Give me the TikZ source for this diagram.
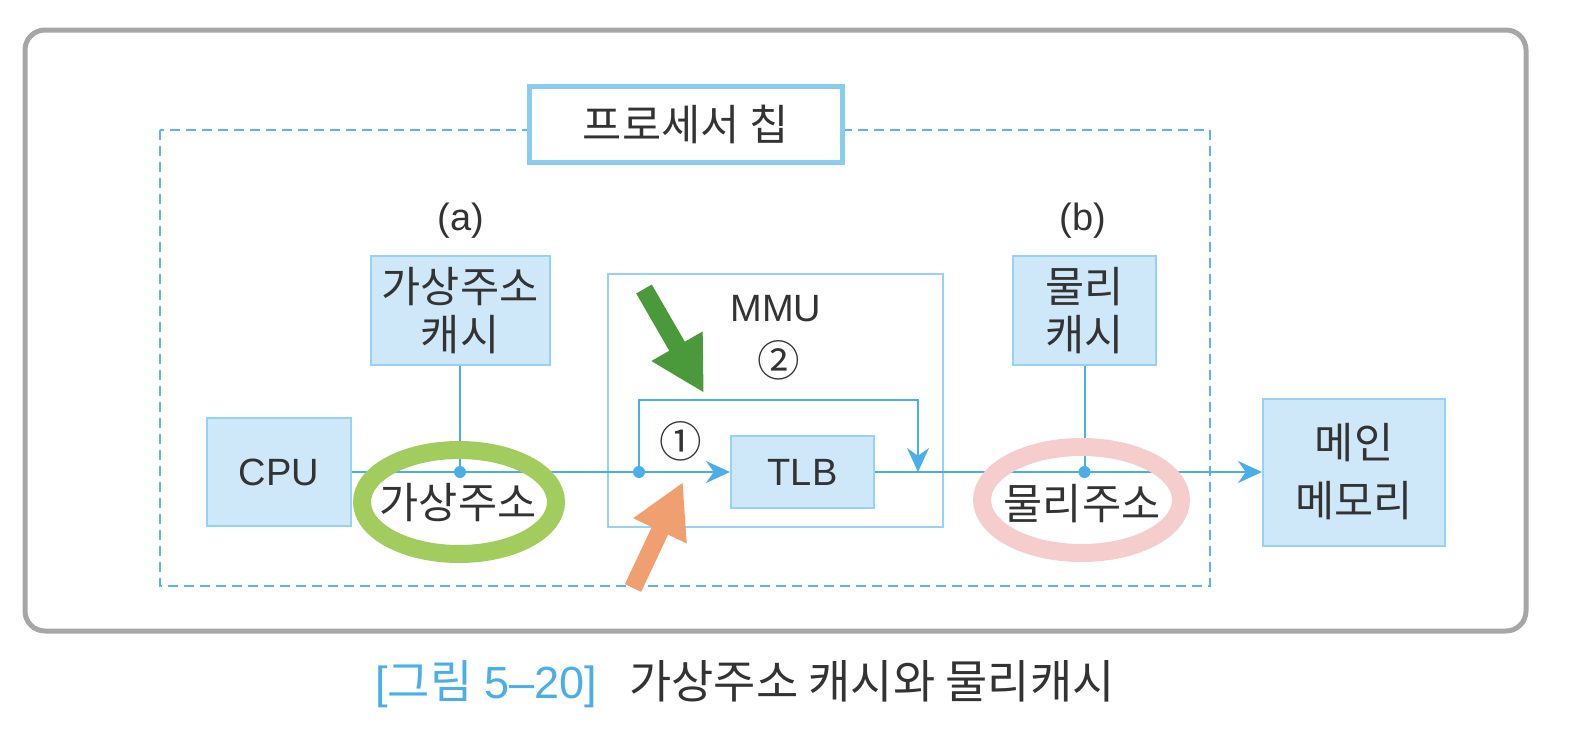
\documentclass[tikz,border=0pt]{standalone}
\usepackage{fontspec}
\setmainfont{Liberation Sans}
\newfontfamily\kr[Scale=1.12]{Noto Sans CJK KR}
\usetikzlibrary{arrows.meta, positioning, calc}
\definecolor{lineblue}{HTML}{4AAEE8}
\definecolor{dashblue}{HTML}{5AB6EA}
\definecolor{boxfill}{HTML}{CFE8F9}
\definecolor{boxline}{HTML}{98D2F3}
\definecolor{titleline}{HTML}{88CCF0}
\definecolor{framegray}{HTML}{A6A6A6}
\definecolor{ringgreen}{HTML}{A2CC5E}
\definecolor{ringpink}{HTML}{F5CDCD}
\definecolor{hintgreen}{HTML}{4A9A3C}
\definecolor{hintorange}{HTML}{F0A070}
\definecolor{textgray}{HTML}{333333}
\begin{document}
\begin{tikzpicture}[x=0.5pt, y=-0.5pt,
    block/.style={draw=boxline, line width=1pt, fill=boxfill, inner sep=0pt,
                  align=center, text=textgray, font=\fontsize{19}{24}\selectfont},
    plain/.style={inner sep=0pt, text=textgray, font=\fontsize{19}{24}\selectfont},
    flow/.style={draw=lineblue, line width=1pt},
    flowarrow/.style={flow, -{Stealth[length=12pt, width=11pt]}},
    junction/.style={circle, fill=lineblue, inner sep=0pt, minimum size=6pt},
    ring/.style={draw=#1, line width=9pt},
    hint/.style={draw=#1, line width=9pt, -{Triangle[length=27pt, width=27.5pt]}}
]
    \useasboundingbox (0,0) rectangle (1590,744);

    % frame and chip outline
    \draw[framegray, line width=2.5pt, rounded corners=10pt] (25,30) rectangle (1526,631);
    \draw[dashblue, line width=1pt, dash pattern=on 5pt off 3pt] (160,130) rectangle (1210,586);
    \node[draw=titleline, line width=2.5pt, fill=white, inner sep=0pt,
          minimum width=156.5pt, minimum height=38pt, text=textgray,
          font=\fontsize{19}{24}\selectfont] (chip) at (685.5,124) {\kr 프로세서 칩};

    % MMU
    \node[draw=boxline, line width=1pt, fill=white, minimum width=167.5pt,
          minimum height=126.5pt] (mmu) at (775.5,400.5) {};
    \node[plain] (mmulabel) at (776,309) {MMU};

    % units
    \node[block, minimum width=72pt, minimum height=54pt] (cpu) at (279,472) {CPU};
    \node[block, minimum width=89.5pt, minimum height=54.5pt] (vcache) at (460,310.5) {\kr 가상주소\\\kr 캐시};
    \node[block, minimum width=71.5pt, minimum height=36pt] (tlb) at (802.5,472) {TLB};
    \node[block, minimum width=71.5pt, minimum height=54.5pt] (pcache) at (1084.5,310.5) {\kr 물리\\\kr 캐시};
    \node[block, minimum width=91pt, minimum height=73.5pt,
          font=\fontsize{19}{29}\selectfont] (mem) at (1354,472) {\kr 메인\\\kr 메모리};

    \node[plain] (alabel) at (461,221) {(a)};
    \node[plain] (blabel) at (1083,221) {(b)};

    % junctions
    \coordinate (vdot) at (460,472);
    \coordinate (split) at (639,472);
    \coordinate (pdot) at (1084.5,472);
    \coordinate (loopL) at (639,400);
    \coordinate (loopR) at (918,400);
    \coordinate (merge) at (918,472);

    % connectors
    \draw[flow] (cpu.east) -- (split);
    \draw[flowarrow] (split) -- (tlb.west);
    \draw[flowarrow] (tlb.east) -- (mem.west);
    \draw[flowarrow] (split) -- (loopL) -- (loopR) -- (merge);
    \draw[flow] (vcache.south) -- (vdot);
    \draw[flow] (pcache.south) -- (pdot);

    \node[plain, font=\fontsize{19}{24}\kr] (one) at (681,441) {①};
    \node[plain, font=\fontsize{19}{24}\kr] (two) at (779,360) {②};

    % highlight rings
    \draw[ring=ringgreen] (459,502) ellipse [x radius=97, y radius=52];
    \draw[ring=ringpink] (1081.5,500) ellipse [x radius=99.5, y radius=53];
    \node[plain] (vaddr) at (458,503) {\kr 가상주소};
    \node[plain] (paddr) at (1082,504) {\kr 물리주소};

    \node[junction] at (vdot) {};
    \node[junction] at (split) {};
    \node[junction] at (pdot) {};

    % pointer arrows
    \coordinate (gtail) at (644,289);
    \coordinate (ghead) at (704,393);
    \coordinate (otail) at (633,588);
    \coordinate (ohead) at (683,482);
    \draw[hint=hintgreen] (gtail) -- (ghead);
    \draw[hint=hintorange] (otail) -- (ohead);

    % caption
    \node[plain, font=\fontsize{22.5}{26}\selectfont] (caption) at (745,684)
        {\textcolor{lineblue}{[{\fontsize{20.5}{24}\kr 그림} 5–20]}\hspace{16pt}{\fontsize{20.5}{24}\kr 가상주소 캐시와 물리캐시}};
\end{tikzpicture}
\end{document}
